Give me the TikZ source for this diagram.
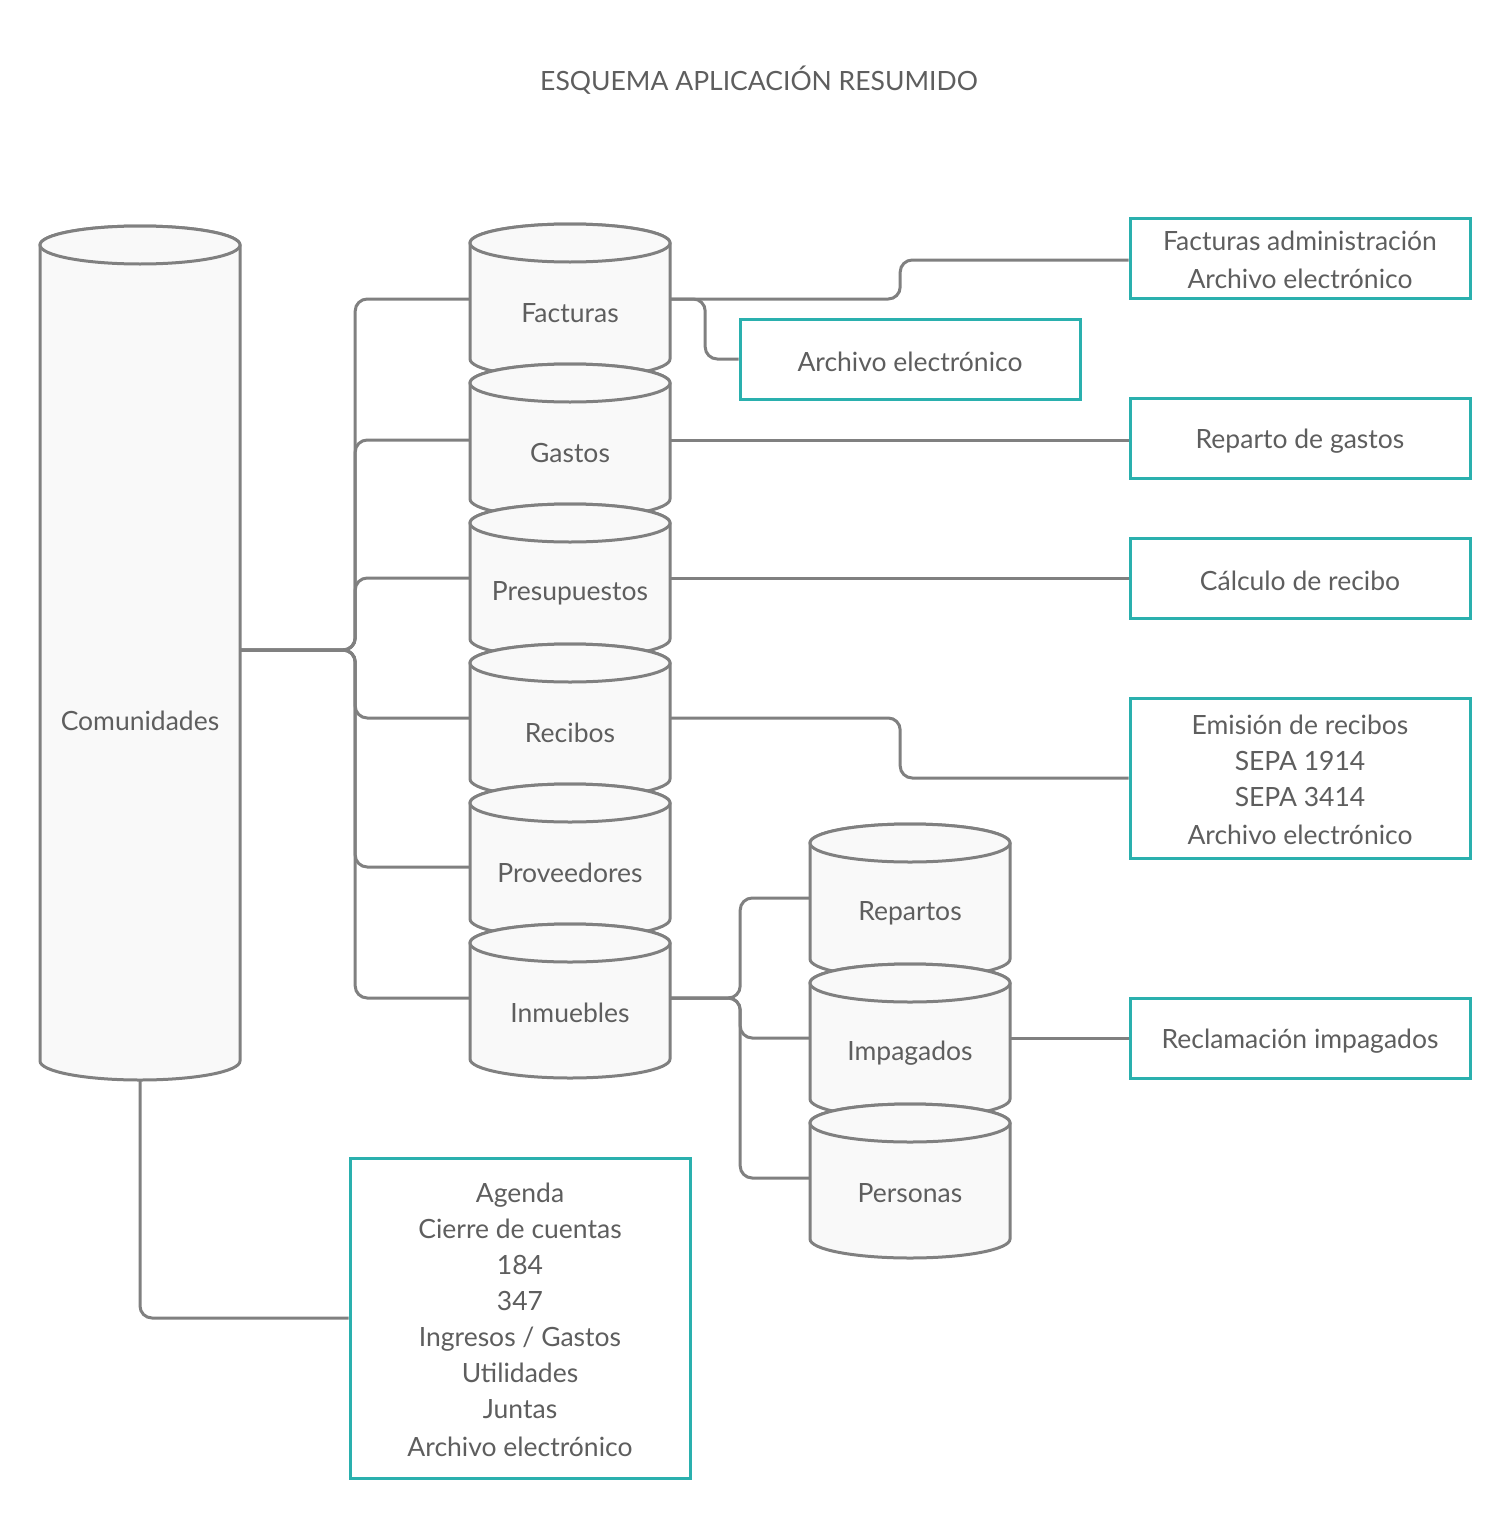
\documentclass[tikz,border=0pt]{standalone}
\usepackage{fontspec}
\setmainfont{Lato}
\usetikzlibrary{calc}
\definecolor{lc}{HTML}{808080}
\definecolor{tc}{HTML}{5E5E5E}
\definecolor{tl}{HTML}{2AB0AE}
\definecolor{cf}{HTML}{F9F9F9}
\pgfdeclarelayer{back}
\pgfdeclarelayer{lines}
\pgfsetlayers{back,lines,main}
\tikzset{
  cylst/.style={draw=lc, fill=cf, line width=3pt},
  conn/.style={draw=lc, line width=3pt, rounded corners=12pt},
  tbox/.style={draw=tl, fill=white, line width=3pt, minimum width=340pt, minimum height=80pt, inner sep=0pt},
  port/.style={inner sep=0pt, minimum width=200pt},
  lbl/.style={text=tc, inner sep=0pt, align=center},
}
\newcommand\mycyl[4]{% name, cx, top, height
  \path[cylst] (#2-100,#3+19) -- (#2-100,#3+#4-19) arc[start angle=180,end angle=0,x radius=100,y radius=19] -- (#2+100,#3+19) arc[start angle=0,end angle=-180,x radius=100,y radius=19] -- cycle;
  \draw[cylst] (#2,#3+19) ellipse[x radius=100,y radius=19];
}
\begin{document}
\begin{tikzpicture}[x=1pt,y=-1pt,font=\fontsize{26.5}{36}\selectfont]
\useasboundingbox (0,0) rectangle (1510,1520);
\begin{pgfonlayer}{back}
\fill[white] (0,0) rectangle (1510,1520);
\end{pgfonlayer}

\node[lbl] (title) at (759,80) {ESQUEMA APLICACIÓN RESUMIDO};

% connector anchor nodes (cylinder bodies)
\node[port, minimum height=848pt] (com) at (140,650) {};
\node[port, minimum height=150pt] (fact) at (570,299) {};
\node[port, minimum height=150pt] (gast) at (570,440) {};
\node[port, minimum height=150pt] (pres) at (570,578) {};
\node[port, minimum height=150pt] (reci) at (570,718) {};
\node[port, minimum height=166pt] (prov) at (570,867) {};
\node[port, minimum height=150pt] (inmu) at (570,998) {};
\node[port, minimum height=150pt] (repa) at (910,898) {};
\node[port, minimum height=150pt] (impa) at (910,1038) {};
\node[port, minimum height=150pt] (pers) at (910,1178) {};

% cylinders
\mycyl{com}{140}{226}{854}
\node[lbl] (comt) at (140,721) {Comunidades};
\mycyl{fact}{570}{224}{154}
\node[lbl] (factt) at (570,313) {Facturas};
\mycyl{gast}{570}{364}{154}
\node[lbl] (gastt) at (570,453) {Gastos};
\mycyl{pres}{570}{504}{154}
\node[lbl] (prest) at (570,593) {Presupuestos};
\mycyl{reci}{570}{644}{154}
\node[lbl] (recit) at (570,733) {Recibos};
\mycyl{prov}{570}{784}{154}
\node[lbl] (provt) at (570,873) {Proveedores};
\mycyl{inmu}{570}{924}{154}
\node[lbl] (inmut) at (570,1013) {Inmuebles};
\mycyl{repa}{910}{824}{154}
\node[lbl] (repat) at (910,913) {Repartos};
\mycyl{impa}{910}{964}{154}
\node[lbl] (impat) at (910,1053) {Impagados};
\mycyl{pers}{910}{1104}{154}
\node[lbl] (perst) at (910,1193) {Personas};

% teal boxes
\node[tbox] (fadm) at (1300,258) {};
\node[lbl] (fadmt) at ([yshift=-2pt]fadm.center) {Facturas administración\\[2pt]Archivo electrónico};
\node[tbox] (arch) at (910,359) {};
\node[lbl] (archt) at ([yshift=-3pt]arch.center) {Archivo electrónico};
\node[tbox] (rep) at (1300,438) {};
\node[lbl] (rept) at ([yshift=-3pt]rep.center) {Reparto de gastos};
\node[tbox] (calc) at (1300,578) {};
\node[lbl] (calct) at ([yshift=-3pt]calc.center) {Cálculo de recibo};
\node[tbox, minimum height=160pt] (emis) at (1300,778) {};
\node[lbl] (emist) at ([yshift=-2pt]emis.center) {Emisión de recibos\\SEPA 1914\\SEPA 3414\\[2pt]Archivo electrónico};
\node[tbox] (recl) at (1300,1038) {};
\node[lbl] (reclt) at ([yshift=-3pt]recl.center) {Reclamación impagados};
\node[tbox, minimum height=320pt] (bot) at (520,1318) {};
\node[lbl] (bott) at ([yshift=-2pt]bot.center) {Agenda\\Cierre de cuentas\\184\\347\\Ingresos / Gastos\\Utilidades\\Juntas\\[2pt]Archivo electrónico};

% connectors
\begin{pgfonlayer}{lines}
\foreach \t in {fact,gast,pres,reci,prov,inmu}{
  \draw[conn] (com.east) -- ++(115,0) |- (\t.west);
}
\draw[conn] (fact.east) -- ++(230,0) |- ([yshift=-2pt]fadm.west);
\draw[conn] (fact.east) -- ++(35,0) |- (arch.west);
\draw[conn] (gast.east) -- (gast.east -| rep.west);
\draw[conn] (pres.east) -- (pres.east -| calc.west);
\draw[conn] (reci.east) -- ++(230,0) |- (emis.west);
\foreach \t in {repa,impa,pers}{
  \draw[conn] (inmu.east) -- ++(70,0) |- (\t.west);
}
\draw[conn] (impa.east) -- (impa.east -| recl.west);
\draw[conn] (com.south) |- (bot.west);
\end{pgfonlayer}
\end{tikzpicture}
\end{document}
